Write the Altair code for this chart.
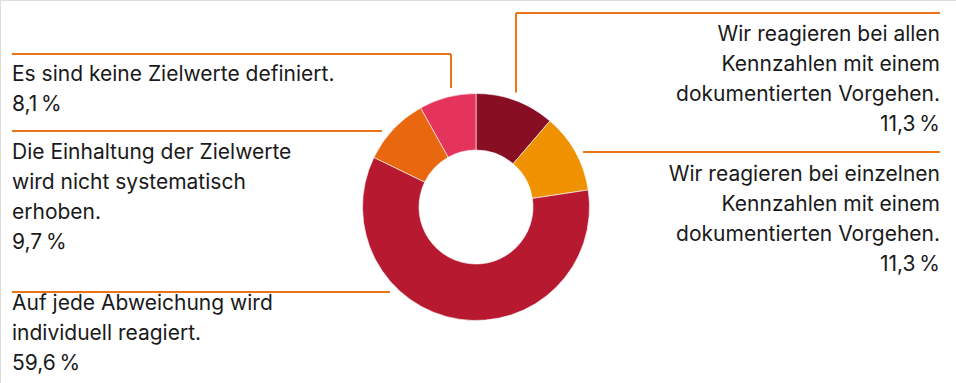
import altair as alt
import pandas as pd

# --- data ---
categories = [
    "Wir reagieren bei allen Kennzahlen mit einem dokumentierten Vorgehen.",
    "Wir reagieren bei einzelnen Kennzahlen mit einem dokumentierten Vorgehen.",
    "Auf jede Abweichung wird individuell reagiert.",
    "Die Einhaltung der Zielwerte wird nicht systematisch erhoben.",
    "Es sind keine Zielwerte definiert.",
]
values = [11.3, 11.3, 59.6, 9.7, 8.1]
colors = ["#870E23", "#F09100", "#B71A30", "#E8670F", "#E5345B"]

label_lines = [
    "Wir reagieren bei allen\nKennzahlen mit einem\ndokumentierten Vorgehen.\n11,3\u2009%",
    "Wir reagieren bei einzelnen\nKennzahlen mit einem\ndokumentierten Vorgehen.\n11,3\u2009%",
    "Auf jede Abweichung wird\nindividuell reagiert.\n59,6\u2009%",
    "Die Einhaltung der Zielwerte\nwird nicht systematisch\nerhoben.\n9,7\u2009%",
    "Es sind keine Zielwerte definiert.\n8,1\u2009%",
]

# --- layout (pixel positions of labels and connectors) ---
label_x = [940, 940, 12, 12, 12]
label_y = [41, 181, 309.5, 158.5, 81]
label_align = ["right", "right", "left", "left", "left"]

conn_x = [516, 516, 583, 12, 12, 12, 451]
conn_x2 = [940, 516, 940, 390, 382, 451, 451]
conn_y = [13, 13, 152, 292, 131, 54, 54]
conn_y2 = [13, 92.5, 152, 292, 131, 54, 88]

CX, CY, R_OUT, R_IN = 476, 207, 113.5, 57
LINE = "#EC7316"
FONT = "Inter"

pie_df = pd.DataFrame({"cat": categories, "val": values, "ord": list(range(len(values)))})
lab_df = pd.DataFrame({"text": label_lines, "x": label_x, "y": label_y, "align": label_align})
con_df = pd.DataFrame({"x": conn_x, "x2": conn_x2, "y": conn_y, "y2": conn_y2})

arc = alt.Chart(pie_df).mark_arc(radius=R_OUT, radius2=R_IN, stroke="white", strokeWidth=0.6).encode(
    theta=alt.Theta("val:Q", stack=True),
    order=alt.Order("ord:Q"),
    color=alt.Color("cat:N", scale=alt.Scale(domain=categories, range=colors), legend=None),
    x=alt.value(CX),
    y=alt.value(CY),
)

rules = alt.Chart(con_df).mark_rule(color=LINE, strokeWidth=2).encode(
    x=alt.X("x:Q", scale=None),
    x2="x2:Q",
    y=alt.Y("y:Q", scale=None),
    y2="y2:Q",
)

def text_layer(align):
    return alt.Chart(lab_df[lab_df["align"] == align]).mark_text(
        align=align, baseline="alphabetic", font=FONT, fontSize=21,
        lineBreak="\n", lineHeight=30, color="#1a1a1a",
    ).encode(
        x=alt.X("x:Q", scale=None),
        y=alt.Y("y:Q", scale=None),
        text="text:N",
    )

chart = alt.layer(rules, arc, text_layer("left"), text_layer("right")).properties(
    width=956, height=383, padding=0, autosize=alt.AutoSizeParams(type="none"),
).configure_view(stroke=None).configure(background="white")

chart.save("out.html", embed_options={"renderer": "svg", "actions": False})
